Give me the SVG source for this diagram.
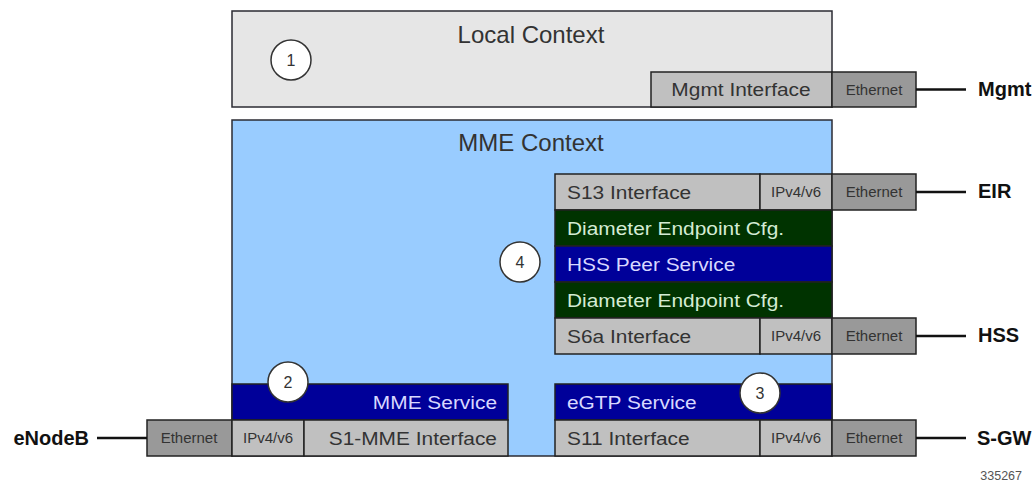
<svg xmlns="http://www.w3.org/2000/svg" width="1034" height="484" viewBox="0 0 1034 484">
<style>
  text { font-family: "Liberation Sans", Arial, sans-serif; }
  .ctx { stroke: #2b2b33; stroke-width: 1.5; }
  .cell { stroke: #222; stroke-width: 1.5; }
  .iface { fill: #c0c0c0; }
  .eth { fill: #999999; }
  .green { fill: #003300; }
  .blue { fill: #000099; }
  .lbl { font-size: 18.5px; fill: #333; }
  .lblg { font-size: 18.5px; fill: #d4ecd4; }
  .lblb { font-size: 18.5px; fill: #d8d8ff; }
  .sm { font-size: 15px; fill: #333; text-anchor: middle; }
  .title { font-size: 24px; fill: #333; text-anchor: middle; }
  .ext { font-size: 20px; font-weight: bold; fill: #111; }
  .num { stroke: #333; stroke-width: 1.5; fill: #fff; }
  .numt { font-size: 16px; fill: #333; text-anchor: middle; }
  .link { stroke: #111; stroke-width: 2.5; fill: none; }
</style>

<g id="local-context">
  <rect class="ctx" x="232" y="11" width="600" height="96" fill="#e6e6e6"/>
  <text class="title" x="531" y="43">Local Context</text>
</g>

<g id="mgmt-interface">
  <rect class="cell iface" x="651" y="72" width="181" height="35"/>
  <text class="lbl" transform="translate(741 96) scale(1.13 1)" text-anchor="middle">Mgmt Interface</text>
  <rect class="cell eth" x="832" y="72" width="84" height="35"/>
  <text class="sm" x="874" y="95">Ethernet</text>
</g>

<g id="mme-context">
  <rect class="ctx" x="232" y="120" width="600" height="336" fill="#99ccff"/>
  <text class="title" x="531" y="151">MME Context</text>
</g>

<g id="s13-interface">
  <rect class="cell iface" x="555" y="174" width="205" height="36"/>
  <text class="lbl" transform="translate(567 198.5) scale(1.13 1)">S13 Interface</text>
  <rect class="cell iface" x="760" y="174" width="72" height="36"/>
  <text class="sm" x="796" y="197">IPv4/v6</text>
  <rect class="cell eth" x="832" y="174" width="84" height="36"/>
  <text class="sm" x="874" y="197">Ethernet</text>
</g>

<g id="diameter-endpoint-1">
  <rect class="cell green" x="555" y="210" width="277" height="36"/>
  <text class="lblg" transform="translate(567 234.5) scale(1.13 1)">Diameter Endpoint Cfg.</text>
</g>

<g id="hss-peer-service">
  <rect class="cell blue" x="555" y="246" width="277" height="36"/>
  <text class="lblb" transform="translate(567 270.5) scale(1.13 1)">HSS Peer Service</text>
</g>

<g id="diameter-endpoint-2">
  <rect class="cell green" x="555" y="282" width="277" height="36"/>
  <text class="lblg" transform="translate(567 306.5) scale(1.13 1)">Diameter Endpoint Cfg.</text>
</g>

<g id="s6a-interface">
  <rect class="cell iface" x="555" y="318" width="205" height="36"/>
  <text class="lbl" transform="translate(567 342.5) scale(1.13 1)">S6a Interface</text>
  <rect class="cell iface" x="760" y="318" width="72" height="36"/>
  <text class="sm" x="796" y="341">IPv4/v6</text>
  <rect class="cell eth" x="832" y="318" width="84" height="36"/>
  <text class="sm" x="874" y="341">Ethernet</text>
</g>

<g id="mme-service">
  <rect class="cell blue" x="232" y="384" width="276" height="36"/>
  <text class="lblb" transform="translate(497 408.5) scale(1.13 1)" text-anchor="end">MME Service</text>
</g>

<g id="s1-mme-interface">
  <rect class="cell eth" x="147" y="420" width="85" height="36"/>
  <text class="sm" x="189" y="443">Ethernet</text>
  <rect class="cell iface" x="232" y="420" width="72" height="36"/>
  <text class="sm" x="268" y="443">IPv4/v6</text>
  <rect class="cell iface" x="304" y="420" width="204" height="36"/>
  <text class="lbl" transform="translate(497 444.5) scale(1.13 1)" text-anchor="end">S1-MME Interface</text>
</g>

<g id="egtp-service">
  <rect class="cell blue" x="555" y="384" width="277" height="36"/>
  <text class="lblb" transform="translate(567 408.5) scale(1.13 1)">eGTP Service</text>
</g>

<g id="s11-interface">
  <rect class="cell iface" x="555" y="420" width="205" height="36"/>
  <text class="lbl" transform="translate(567 444.5) scale(1.13 1)">S11 Interface</text>
  <rect class="cell iface" x="760" y="420" width="72" height="36"/>
  <text class="sm" x="796" y="443">IPv4/v6</text>
  <rect class="cell eth" x="832" y="420" width="84" height="36"/>
  <text class="sm" x="874" y="443">Ethernet</text>
</g>

<g id="callout-1">
  <circle class="num" cx="291" cy="60" r="20"/>
  <text class="numt" x="291" y="66">1</text>
</g>
<g id="callout-2">
  <circle class="num" cx="288" cy="382" r="20"/>
  <text class="numt" x="288" y="388">2</text>
</g>
<g id="callout-3">
  <circle class="num" cx="760" cy="393" r="20"/>
  <text class="numt" x="760" y="399">3</text>
</g>
<g id="callout-4">
  <circle class="num" cx="520" cy="262" r="20"/>
  <text class="numt" x="520" y="268">4</text>
</g>

<g id="connectors">
  <line class="link" x1="916" y1="89.5" x2="966" y2="89.5" stroke-width="3"/>
  <line class="link" x1="916" y1="192" x2="966" y2="192"/>
  <line class="link" x1="916" y1="336" x2="966" y2="336"/>
  <line class="link" x1="916" y1="438" x2="966" y2="438"/>
  <line class="link" x1="97" y1="438" x2="147" y2="438"/>
</g>

<g id="mgmt"><text class="ext" x="978" y="96">Mgmt</text></g>
<g id="eir"><text class="ext" x="978" y="198">EIR</text></g>
<g id="hss"><text class="ext" x="978" y="342">HSS</text></g>
<g id="s-gw"><text class="ext" x="977" y="445">S-GW</text></g>
<g id="enodeb"><text class="ext" x="89" y="445" text-anchor="end">eNodeB</text></g>

<text x="1022" y="480" font-size="12.5" fill="#555" text-anchor="end">335267</text>
</svg>
